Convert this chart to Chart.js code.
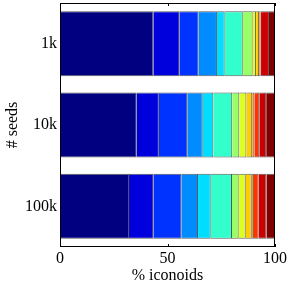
<!DOCTYPE html>
<html>
<head>
<meta charset="utf-8">
<script src="https://cdn.jsdelivr.net/npm/chart.js@4/dist/chart.umd.min.js"></script>
<style>
    html, body { margin: 0; padding: 0; background: #fff; }
    #wrap { width: 291px; height: 285px; position: relative; }
</style>
</head>
<body>
<div id="wrap"><canvas id="Seeds_Chart"></canvas></div>
<script>
// data
var categories = ['1k', '10k', '100k'];
var shares1k   = [43.4, 12.3, 8.8, 8.5, 3.6, 8.4, 4.6, 1.6, 1.4, 0.6, 0.3, 3.7, 2.8];
var shares10k  = [35.7, 10.3, 13.4, 7.0, 4.9, 8.8, 3.3, 3.3, 2.7, 1.0, 2.3, 3.2, 4.1];
var shares100k = [32.1, 11.5, 13.0, 7.6, 5.9, 9.9, 3.1, 3.3, 2.8, 1.0, 2.2, 3.6, 4.0];
var xTicks = [0, 50, 100];

// jet-like colours, one per segment
var segColors = ['#000080', '#0000dd', '#0033ff', '#008cff', '#00ddff', '#33ffcc',
                 '#99ff66', '#ddff22', '#ffcc00', '#ff8800', '#ff3300', '#cc0000', '#800000'];

var serif = "'Liberation Serif', 'DejaVu Serif', serif";

// box + inward ticks like matlab
var boxPlugin = {
    id: 'boxPlugin',
    afterDraw: function(chart) {
        var ctx = chart.ctx;
        var a = chart.chartArea;
        var xs = chart.scales.x;
        ctx.save();
        ctx.strokeStyle = '#000';
        ctx.lineWidth = 1;
        ctx.strokeRect(Math.round(a.left) + 0.5, Math.round(a.top) + 0.5,
            Math.round(a.right - a.left) - 1, Math.round(a.bottom - a.top) - 1);
        xTicks.forEach(function(v) {
            var px = Math.round(xs.getPixelForValue(v)) + 0.5;
            ctx.beginPath();
            ctx.moveTo(px, a.top);
            ctx.lineTo(px, a.top + 3);
            ctx.moveTo(px, a.bottom);
            ctx.lineTo(px, a.bottom - 3);
            ctx.stroke();
        });
        ctx.restore();
    }
};

var Seeds_Chart = null;

function createSeeds_Chart() {
    var canvas = document.getElementById('Seeds_Chart');
    var rows = [shares1k, shares10k, shares100k];

    var datasets = segColors.map(function(c, i) {
        return {
            data: rows.map(function(r) { return r[i]; }),
            backgroundColor: c,
            borderColor: 'rgba(0, 0, 0, 0.65)',
            borderWidth: 1,
            barPercentage: 0.8,
            categoryPercentage: 1.0
        };
    });

    Seeds_Chart = new Chart(canvas, {
        type: 'bar',
        data: {
            labels: categories,
            datasets: datasets
        },
        options: {
            indexAxis: 'y',
            responsive: true,
            maintainAspectRatio: false,
            animation: false,
            plugins: {
                legend: { display: false },
                tooltip: { enabled: false }
            },
            layout: {
                padding: { left: 0, right: 16, top: 3, bottom: 0 }
            },
            scales: {
                x: {
                    stacked: true,
                    min: 0,
                    max: 100,
                    afterBuildTicks: function(s) {
                        s.ticks = xTicks.map(function(v) { return { value: v }; });
                    },
                    afterFit: function(s) {
                        s.height = 38;
                        s.paddingLeft = 0;
                        s.paddingRight = 0;
                    },
                    grid: { display: false, drawTicks: false, tickLength: 0 },
                    border: { display: false },
                    ticks: {
                        color: '#000',
                        padding: 2,
                        maxRotation: 0,
                        font: { family: serif, size: 16 }
                    },
                    title: {
                        display: true,
                        text: '% iconoids',
                        color: '#000',
                        padding: { top: -3, bottom: 0 },
                        font: { family: serif, size: 16 }
                    }
                },
                y: {
                    stacked: true,
                    afterFit: function(s) {
                        s.width = 60;
                        s.paddingTop = 0;
                        s.paddingBottom = 0;
                    },
                    grid: { display: false, drawTicks: false, tickLength: 0 },
                    border: { display: false },
                    ticks: {
                        color: '#000',
                        padding: 3,
                        font: { family: serif, size: 16 }
                    },
                    title: {
                        display: true,
                        text: '# seeds',
                        color: '#000',
                        padding: { top: 3, bottom: 0 },
                        font: { family: serif, size: 16 }
                    }
                }
            }
        },
        plugins: [boxPlugin]
    });
}

document.addEventListener('DOMContentLoaded', function() {
    createSeeds_Chart();
});
</script>
</body>
</html>
